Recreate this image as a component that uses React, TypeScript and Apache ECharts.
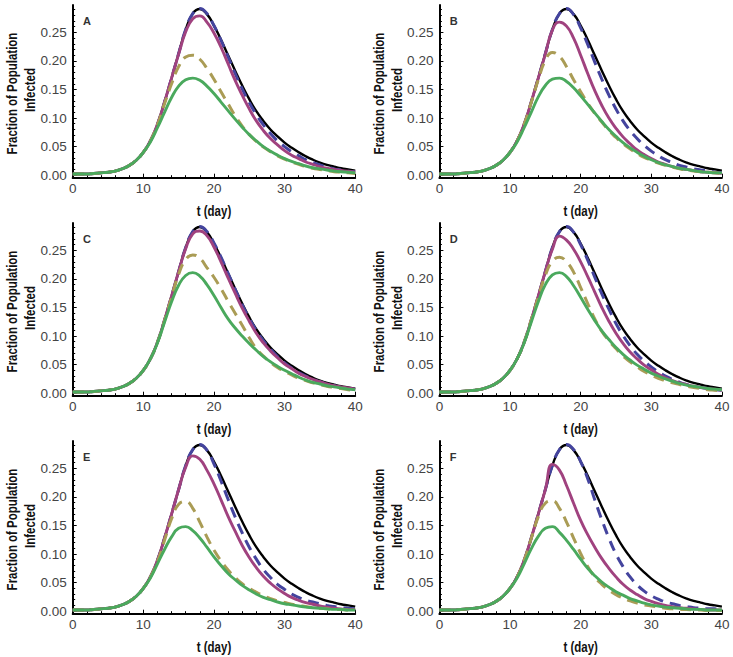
import React, { useEffect, useRef } from 'react';
import * as echarts from 'echarts';

// ---------- data ----------
const days = [0,1,2,3,4,5,6,7,8,9,10,11,12,13,14,15,16,17,18,19,20,21,22,23,24,25,26,27,28,29,30,31,32,33,34,35,36,37,38,39,40];
const yMajorTicks = [0, 0.05, 0.1, 0.15, 0.2, 0.25];
const yMinorTicks = [0.01,0.02,0.03,0.04,0.06,0.07,0.08,0.09,0.11,0.12,0.13,0.14,0.16,0.17,0.18,0.19,0.21,0.22,0.23,0.24,0.26,0.27,0.28,0.29];
const panelLabels = ['A', 'B', 'C', 'D', 'E', 'F'];

// black solid (baseline, same in every panel)
const baseline = [0.002,0.002,0.002,0.003,0.004,0.005,0.007,0.011,0.017,0.026,0.040,0.060,0.089,0.128,0.170,0.213,0.255,0.283,0.291,0.282,0.262,0.237,0.210,0.183,0.157,0.133,0.112,0.095,0.080,0.068,0.057,0.048,0.040,0.033,0.027,0.022,0.018,0.015,0.012,0.010,0.008];

const blueA = [0.002,0.002,0.002,0.003,0.004,0.005,0.007,0.011,0.017,0.026,0.040,0.060,0.089,0.128,0.170,0.213,0.255,0.283,0.292,0.283,0.262,0.236,0.207,0.178,0.151,0.127,0.106,0.088,0.073,0.060,0.050,0.041,0.034,0.027,0.022,0.018,0.014,0.011,0.009,0.007,0.006];
const purpleA = [0.002,0.002,0.002,0.003,0.004,0.005,0.007,0.011,0.017,0.026,0.040,0.060,0.089,0.128,0.170,0.212,0.251,0.274,0.279,0.268,0.249,0.224,0.195,0.166,0.140,0.116,0.095,0.078,0.064,0.053,0.043,0.035,0.029,0.023,0.019,0.015,0.012,0.010,0.008,0.007,0.005];
const goldA = [0.002,0.002,0.002,0.003,0.004,0.005,0.007,0.011,0.017,0.026,0.040,0.060,0.088,0.125,0.160,0.190,0.207,0.210,0.203,0.187,0.168,0.146,0.125,0.104,0.086,0.071,0.059,0.049,0.041,0.034,0.028,0.023,0.019,0.015,0.012,0.010,0.008,0.006,0.005,0.004,0.003];
const greenA = [0.002,0.002,0.002,0.003,0.004,0.005,0.007,0.011,0.017,0.026,0.040,0.058,0.083,0.110,0.136,0.156,0.167,0.170,0.166,0.156,0.143,0.128,0.113,0.098,0.084,0.071,0.060,0.050,0.042,0.035,0.029,0.024,0.020,0.016,0.013,0.011,0.009,0.007,0.006,0.005,0.004];

const blueB = [0.002,0.002,0.002,0.003,0.004,0.005,0.007,0.011,0.017,0.026,0.040,0.060,0.089,0.128,0.170,0.213,0.255,0.283,0.292,0.281,0.258,0.229,0.198,0.168,0.140,0.116,0.095,0.078,0.064,0.052,0.042,0.034,0.027,0.022,0.017,0.014,0.011,0.009,0.007,0.005,0.004];
const purpleB = [0.002,0.002,0.002,0.003,0.004,0.005,0.007,0.011,0.017,0.026,0.040,0.060,0.089,0.128,0.170,0.212,0.254,0.268,0.261,0.240,0.210,0.178,0.148,0.122,0.100,0.082,0.067,0.055,0.044,0.036,0.029,0.023,0.019,0.015,0.012,0.010,0.008,0.006,0.005,0.004,0.003];
const goldB = [0.002,0.002,0.002,0.003,0.004,0.005,0.007,0.011,0.017,0.026,0.040,0.060,0.089,0.127,0.167,0.201,0.215,0.208,0.190,0.167,0.146,0.126,0.108,0.093,0.078,0.066,0.055,0.046,0.038,0.031,0.026,0.021,0.017,0.014,0.011,0.009,0.007,0.006,0.005,0.004,0.003];
const greenB = [0.002,0.002,0.002,0.003,0.004,0.005,0.007,0.011,0.017,0.026,0.040,0.058,0.083,0.110,0.137,0.157,0.168,0.170,0.164,0.153,0.139,0.124,0.109,0.094,0.080,0.068,0.057,0.048,0.040,0.033,0.027,0.022,0.018,0.015,0.012,0.010,0.008,0.006,0.005,0.004,0.004];

const blueC = [0.002,0.002,0.002,0.003,0.004,0.005,0.007,0.011,0.017,0.026,0.040,0.060,0.089,0.128,0.170,0.213,0.255,0.283,0.292,0.283,0.263,0.238,0.210,0.182,0.155,0.131,0.110,0.092,0.077,0.064,0.053,0.044,0.036,0.030,0.024,0.020,0.016,0.013,0.010,0.008,0.007];
const purpleC = [0.002,0.002,0.002,0.003,0.004,0.005,0.007,0.011,0.017,0.026,0.040,0.060,0.089,0.128,0.170,0.213,0.253,0.279,0.284,0.276,0.256,0.230,0.202,0.175,0.149,0.126,0.105,0.088,0.074,0.062,0.051,0.043,0.035,0.029,0.024,0.020,0.016,0.013,0.011,0.009,0.007];
const goldC = [0.002,0.002,0.002,0.003,0.004,0.005,0.007,0.011,0.017,0.026,0.040,0.060,0.089,0.127,0.168,0.208,0.234,0.242,0.236,0.220,0.203,0.183,0.161,0.140,0.119,0.097,0.078,0.065,0.054,0.045,0.038,0.032,0.026,0.022,0.018,0.015,0.012,0.010,0.008,0.006,0.005];
const greenC = [0.002,0.002,0.002,0.003,0.004,0.005,0.007,0.011,0.017,0.026,0.040,0.060,0.088,0.124,0.160,0.189,0.206,0.211,0.205,0.190,0.171,0.150,0.130,0.114,0.100,0.087,0.075,0.064,0.055,0.047,0.040,0.034,0.028,0.023,0.019,0.016,0.013,0.011,0.009,0.007,0.006];

const blueD = [0.002,0.002,0.002,0.003,0.004,0.005,0.007,0.011,0.017,0.026,0.040,0.060,0.089,0.128,0.170,0.213,0.255,0.283,0.292,0.282,0.260,0.233,0.203,0.174,0.147,0.122,0.101,0.083,0.068,0.056,0.046,0.037,0.030,0.024,0.019,0.015,0.012,0.010,0.008,0.006,0.005];
const purpleD = [0.002,0.002,0.002,0.003,0.004,0.005,0.007,0.011,0.017,0.026,0.040,0.060,0.089,0.128,0.170,0.213,0.252,0.275,0.268,0.252,0.230,0.204,0.177,0.150,0.126,0.105,0.087,0.072,0.060,0.049,0.041,0.033,0.027,0.022,0.018,0.015,0.012,0.010,0.008,0.007,0.005];
const goldD = [0.002,0.002,0.002,0.003,0.004,0.005,0.007,0.011,0.017,0.026,0.040,0.060,0.089,0.128,0.168,0.206,0.231,0.238,0.230,0.212,0.185,0.157,0.130,0.108,0.092,0.078,0.065,0.055,0.046,0.038,0.032,0.026,0.022,0.018,0.015,0.012,0.010,0.008,0.006,0.005,0.004];
const greenD = [0.002,0.002,0.002,0.003,0.004,0.005,0.007,0.011,0.017,0.026,0.040,0.060,0.088,0.124,0.160,0.190,0.207,0.211,0.204,0.188,0.168,0.147,0.127,0.109,0.094,0.080,0.068,0.058,0.049,0.042,0.035,0.030,0.025,0.021,0.017,0.014,0.012,0.010,0.008,0.007,0.006];

const blueE = [0.002,0.002,0.002,0.003,0.004,0.005,0.007,0.011,0.017,0.026,0.040,0.060,0.089,0.128,0.170,0.213,0.255,0.283,0.292,0.282,0.258,0.228,0.196,0.165,0.137,0.112,0.091,0.073,0.059,0.047,0.038,0.030,0.024,0.019,0.016,0.013,0.010,0.008,0.006,0.005,0.004];
const purpleE = [0.002,0.002,0.002,0.003,0.004,0.005,0.007,0.011,0.017,0.026,0.040,0.060,0.089,0.128,0.170,0.213,0.252,0.272,0.266,0.247,0.223,0.195,0.166,0.140,0.115,0.094,0.076,0.061,0.049,0.039,0.031,0.024,0.019,0.015,0.012,0.009,0.007,0.005,0.004,0.003,0.003];
const goldE = [0.002,0.002,0.002,0.003,0.004,0.005,0.007,0.011,0.017,0.026,0.040,0.060,0.087,0.124,0.162,0.187,0.192,0.180,0.156,0.130,0.107,0.088,0.072,0.059,0.048,0.040,0.033,0.027,0.022,0.018,0.015,0.012,0.010,0.008,0.006,0.005,0.004,0.003,0.003,0.002,0.002];
const greenE = [0.002,0.002,0.002,0.003,0.004,0.005,0.007,0.011,0.017,0.026,0.040,0.058,0.083,0.108,0.130,0.145,0.148,0.141,0.128,0.112,0.095,0.080,0.066,0.055,0.045,0.037,0.030,0.024,0.020,0.016,0.013,0.011,0.009,0.007,0.006,0.005,0.004,0.003,0.003,0.002,0.002];

const blueF = [0.002,0.002,0.002,0.003,0.004,0.005,0.007,0.011,0.017,0.026,0.040,0.060,0.089,0.128,0.170,0.213,0.255,0.283,0.292,0.283,0.262,0.232,0.195,0.160,0.128,0.100,0.078,0.060,0.046,0.035,0.027,0.021,0.016,0.013,0.010,0.008,0.006,0.005,0.004,0.004,0.003];
const purpleF = [0.002,0.002,0.002,0.003,0.004,0.005,0.007,0.011,0.017,0.026,0.040,0.060,0.089,0.128,0.170,0.213,0.257,0.247,0.220,0.189,0.159,0.134,0.112,0.092,0.075,0.060,0.047,0.037,0.029,0.022,0.017,0.013,0.010,0.008,0.006,0.005,0.004,0.003,0.002,0.002,0.002];
const goldF = [0.002,0.002,0.002,0.003,0.004,0.005,0.007,0.011,0.017,0.026,0.040,0.060,0.089,0.127,0.165,0.189,0.193,0.180,0.156,0.128,0.101,0.078,0.060,0.047,0.037,0.029,0.023,0.018,0.014,0.011,0.009,0.007,0.005,0.004,0.003,0.003,0.002,0.002,0.001,0.001,0.001];
const greenF = [0.002,0.002,0.002,0.003,0.004,0.005,0.007,0.011,0.017,0.026,0.040,0.058,0.083,0.109,0.131,0.145,0.148,0.138,0.124,0.108,0.091,0.075,0.062,0.051,0.042,0.034,0.028,0.022,0.018,0.014,0.011,0.009,0.007,0.006,0.005,0.004,0.003,0.003,0.002,0.002,0.002];

const panelSeries = [
  [blueA, purpleA, goldA, greenA],
  [blueB, purpleB, goldB, greenB],
  [blueC, purpleC, goldC, greenC],
  [blueD, purpleD, goldD, greenD],
  [blueE, purpleE, goldE, greenE],
  [blueF, purpleF, goldF, greenF],
];

// ---------- styles ----------
const COLORS = { black: '#000000', blue: '#44449e', purple: '#a0427f', gold: '#aa9c55', green: '#4aa95d' };
const FONT = '"Liberation Sans", Arial, sans-serif';
const TICK_COLOR = '#444444';
const colLeft = [72.7, 439.4];
const plotW = 282.5;
const plotH = 172.7;
const rowTop = [5, 223, 441];

function buildOption() {
  const grids: any[] = [];
  const xAxes: any[] = [];
  const yAxes: any[] = [];
  const series: any[] = [];
  const graphics: any[] = [];

  for (let i = 0; i < 6; i++) {
    const c = i % 2;
    const r = Math.floor(i / 2);
    const left = colLeft[c];
    const top = rowTop[r];
    grids.push({ left, top, width: plotW, height: plotH, containLabel: false });

    xAxes.push({
      type: 'value', gridIndex: i, min: 0, max: 40, interval: 10, position: 'bottom',
      axisLine: { onZero: false, lineStyle: { color: '#000', width: 2 } },
      axisTick: { inside: true, length: 4, lineStyle: { color: '#000', width: 1 } },
      minorTick: { show: true, splitNumber: 5, length: 2.5, lineStyle: { color: '#000', width: 1 } },
      splitLine: { show: false },
      minorSplitLine: { show: false },
      axisLabel: { color: TICK_COLOR, fontSize: 13.5, fontFamily: FONT, margin: 4 },
    });
    yAxes.push({
      type: 'value', gridIndex: i, min: -0.0045, max: 0.298, position: 'left',
      axisLine: { show: true, onZero: false, lineStyle: { color: '#000', width: 2 } },
      axisTick: { show: true, inside: true, length: 4, customValues: yMajorTicks, lineStyle: { color: '#000', width: 1 } },
      splitLine: { show: false },
      axisLabel: {
        customValues: yMajorTicks, color: TICK_COLOR, fontSize: 13.5, fontFamily: FONT, margin: 6,
        formatter: (v: number) => v.toFixed(2),
      },
    });
    yAxes.push({
      type: 'value', gridIndex: i, min: -0.0045, max: 0.298, position: 'left', offset: 0,
      axisLine: { show: false, onZero: false },
      axisTick: { show: true, inside: true, length: 2.5, customValues: yMinorTicks, lineStyle: { color: '#000', width: 1 } },
      axisLabel: { show: false },
      splitLine: { show: false },
    });

    const [blue, purple, gold, green] = panelSeries[i];
    const mk = (arr: number[]) => days.map((d, k) => [d, arr[k]]);
    const common = { type: 'line', xAxisIndex: i, yAxisIndex: 2 * i, showSymbol: false, smooth: 0.5, silent: true };
    series.push({ ...common, name: 'baseline', data: mk(baseline), z: 2, lineStyle: { color: COLORS.black, width: 2.4 } });
    series.push({ ...common, name: 'blue', data: mk(blue), z: 3, lineStyle: { color: COLORS.blue, width: 3, type: [11, 7] } });
    series.push({ ...common, name: 'purple', data: mk(purple), z: 4, lineStyle: { color: COLORS.purple, width: 2.9 } });
    series.push({ ...common, name: 'gold', data: mk(gold), z: 5, lineStyle: { color: COLORS.gold, width: 3, type: [11, 7] } });
    series.push({ ...common, name: 'green', data: mk(green), z: 6, lineStyle: { color: COLORS.green, width: 2.9 } });

    const dx = c === 0 ? 0 : 366.7;
    const dy = r * 218;
    graphics.push({
      type: 'text', x: 12 + dx, y: 93.5 + dy, rotation: Math.PI / 2, scaleX: 0.82,
      style: { text: 'Fraction of Population', font: `bold 14px ${FONT}`, fill: '#111', textAlign: 'center', textVerticalAlign: 'middle' },
    });
    graphics.push({
      type: 'text', x: 30 + dx, y: 90 + dy, rotation: Math.PI / 2, scaleX: 0.82,
      style: { text: 'Infected', font: `bold 14px ${FONT}`, fill: '#111', textAlign: 'center', textVerticalAlign: 'middle' },
    });
    graphics.push({
      type: 'text', x: 214 + dx, y: 211 + dy, scaleX: 0.82,
      style: { text: 't (day)', font: `bold 14px ${FONT}`, fill: '#111', textAlign: 'center', textVerticalAlign: 'middle' },
    });
    graphics.push({
      type: 'text', x: 83 + dx, y: 20.5 + dy,
      style: { text: panelLabels[i], font: `bold 11px ${FONT}`, fill: '#333', textAlign: 'left', textVerticalAlign: 'middle' },
    });
  }

  return {
    animation: false,
    backgroundColor: '#ffffff',
    textStyle: { fontFamily: FONT },
    grid: grids,
    xAxis: xAxes,
    yAxis: yAxes,
    series,
    graphic: graphics,
  };
}

export default function App() {
  const ref = useRef<HTMLDivElement>(null);
  useEffect(() => {
    if (!ref.current) return;
    const chart = echarts.init(ref.current, undefined, { renderer: 'svg' });
    chart.setOption(buildOption() as any);
    return () => chart.dispose();
  }, []);
  return <div ref={ref} style={{ position: 'absolute', left: 0, top: 0, width: 733, height: 657, background: '#fff' }} />;
}
